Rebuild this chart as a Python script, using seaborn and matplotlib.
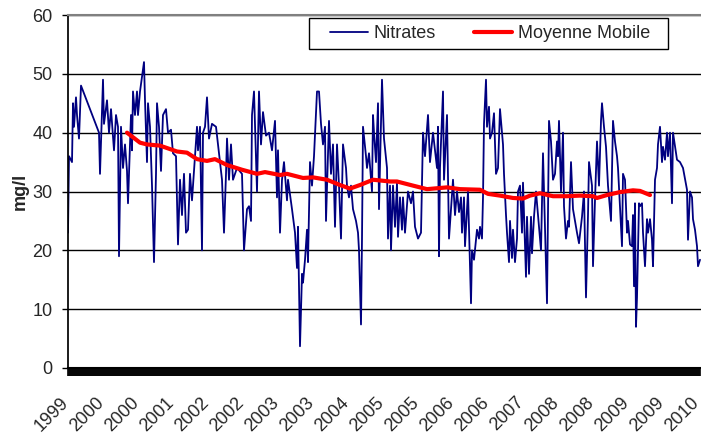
import numpy as np
import pandas as pd
import seaborn as sns
import matplotlib
matplotlib.use("Agg")
import matplotlib.pyplot as plt
import matplotlib.transforms as mtransforms
from matplotlib.patches import Rectangle

# sample position (category index) and nitrate value
sample = [0, 1, 4, 5, 6, 8, 9, 11, 13, 31, 32, 35, 36, 39, 41, 43, 46, 48, 50, 51,
          53, 55, 57, 59, 60, 63, 64, 65, 67, 69, 70, 72, 76, 77, 79, 80, 82, 84, 86, 88,
          89, 91, 93, 95, 98, 100, 103, 105, 108, 110, 112, 114, 116, 118, 120, 122, 124, 126, 129, 130,
          132, 134, 135, 137, 139, 141, 144, 148, 154, 156, 158, 159, 161, 163, 165, 169, 174, 176, 179, 181,
          183, 184, 186, 189, 191, 193, 195, 198, 201, 204, 207, 209, 210, 212, 214, 216, 219, 220, 224, 227,
          229, 230, 232, 234, 235, 237, 239, 240, 242, 244, 246, 249, 251, 253, 255, 257, 258, 261, 263, 265,
          267, 269, 271, 273, 275, 278, 279, 281, 283, 285, 288, 290, 291, 293, 294, 295, 298, 299, 301, 304,
          305, 306, 308, 310, 311, 314, 316, 319, 320, 322, 323, 325, 327, 329, 330, 332, 334, 335, 337, 340,
          343, 345, 347, 350, 353, 355, 357, 360, 362, 365, 369, 370, 371, 372, 375, 376, 379, 381, 385, 387,
          389, 391, 393, 394, 396, 397, 400, 403, 404, 406, 409, 411, 412, 414, 415, 416, 418, 419, 421, 422,
          424, 426, 428, 430, 432, 435, 436, 438, 439, 441, 442, 444, 445, 447, 449, 450, 452, 454, 455, 458,
          459, 461, 463, 464, 466, 468, 470, 473, 475, 479, 481, 483, 485, 487, 489, 490, 491, 493, 495, 496,
          498, 500, 501, 503, 505, 509, 511, 514, 516, 518, 520, 521, 524, 525, 527, 529, 531, 533, 534, 536,
          538, 540, 543, 545, 547, 549, 550, 552, 554, 555, 557, 559, 560, 562, 564, 565, 566, 567, 568, 569,
          571, 572, 574, 575, 577, 579, 580, 582, 584, 585, 587, 589, 590, 592, 594, 595, 597, 599, 600, 602,
          604, 605, 609, 612, 615, 619, 620, 622, 624, 625, 627, 629, 630, 632]
nitrates = [23, 36, 35, 45, 41, 46, 43, 39, 48, 40, 33, 49, 41.5, 45.5, 40, 44, 37, 43, 41, 19,
            41, 34, 38, 33.5, 28, 43, 37, 47, 43, 47, 43, 47, 52, 45.5, 35, 45, 41, 31, 18, 33,
            45, 41, 33.5, 43, 44, 40, 40.5, 36.5, 36, 21, 32, 26, 33, 23, 23.5, 33, 28.5, 33.5, 41, 37,
            41, 20, 40, 41, 46, 39, 41.5, 41, 32, 23, 33, 39, 32, 38, 32, 34, 33, 20, 27, 27.5,
            25, 43, 47, 30, 47, 38, 43.5, 39.5, 40, 37, 42, 29, 37, 23, 32, 35, 28.5, 32, 27, 23,
            17, 24, 3.7, 16, 14.5, 18.4, 23.5, 18, 35, 31, 36, 47, 47, 41.5, 38, 41, 25, 42, 33, 38,
            24, 38, 31, 22, 38, 34, 31, 29, 31, 27, 25, 23, 20, 7.4, 22, 41, 36, 34, 36.5, 30,
            43, 40, 35, 45, 27, 49, 39, 34, 22, 31, 20, 31, 24, 31.4, 22.3, 29, 23.5, 29, 23, 30,
            28, 30, 24, 22, 23, 40, 36, 43, 35, 40, 34, 41, 19, 34, 47, 32, 43, 22, 32, 26,
            30, 26.5, 29, 23, 29, 20.7, 30, 11, 20, 18.4, 23.5, 22, 24, 22, 29, 41.5, 49, 41, 44.4, 39,
            40, 43.3, 33, 34, 44, 38, 33, 26, 23, 18, 25, 18.7, 23.5, 18, 22, 30, 31, 23, 31.5, 15.5,
            25.7, 16, 25.7, 19.5, 25.7, 30, 26, 20, 36.5, 11, 42, 38.5, 32, 33, 38.5, 36, 42, 30, 40, 27.5,
            22, 25, 24, 35, 27, 23, 21.2, 25.7, 30, 12, 26, 35, 31, 17.3, 28.6, 38.5, 31, 42, 45, 41,
            37.6, 31, 25, 42, 38.5, 36, 34, 27.5, 20.7, 33, 32, 23, 25, 21, 20.7, 26, 13.9, 28, 7, 12,
            28, 27.5, 28, 23, 17.3, 25.3, 23, 25.3, 21.8, 17.3, 32, 34, 38, 41, 35, 37.6, 35.4, 40, 36, 40,
            28, 40, 35.4, 35, 34, 30.3, 21.8, 30, 29, 25.3, 23.5, 20.7, 17.3, 18.4]

# moving average (Moyenne Mobile)
ma_sample = [59, 72, 79, 92, 109, 119, 129, 139, 147, 159, 174, 189, 197, 212, 219, 235, 245, 259,
             272, 282, 292, 305, 322, 329, 345, 359, 379, 392, 412, 420, 432, 445, 455, 462, 472,
             485, 499, 512, 525, 529, 539, 552, 565, 572, 582]
ma_values = [40, 38.3, 38, 37.8, 36.8, 36.6, 35.5, 35.2, 35.5, 34.5, 33.7, 33, 33.3, 32.8, 33, 32.3,
             32.4, 32, 31.1, 30.5, 31.1, 32, 31.7, 31.7, 31, 30.4, 30.7, 30.4, 30.3, 29.6, 29.3, 28.9,
             28.8, 29.3, 29.7, 29.2, 29.2, 29.3, 29.2, 28.9, 29.4, 29.9, 30.2, 30.1, 29.4]

year_labels = ["1999", "2000", "2000", "2001", "2002", "2002", "2003", "2003", "2004", "2005",
               "2005", "2006", "2006", "2007", "2008", "2008", "2009", "2009", "2010"]
label_step = 35

df = pd.DataFrame({"sample": sample, "value": nitrates})
df_ma = pd.DataFrame({"sample": ma_sample, "value": ma_values})

sns.set_theme(style="white")
plt.rcParams["font.family"] = ["Liberation Sans", "DejaVu Sans"]

fig, ax = plt.subplots(figsize=(7.01, 4.33), dpi=100)
fig.subplots_adjust(left=68 / 701, right=1.0, bottom=65 / 433, top=418 / 433)

sns.lineplot(data=df, x="sample", y="value", ax=ax, color="#000080", lw=1.3,
             label="Nitrates")
sns.lineplot(data=df_ma, x="sample", y="value", ax=ax, color="#ff0000", lw=3,
             label="Moyenne Mobile")

ax.set_xlim(0, 633)
ax.set_ylim(0, 60)
ax.set_yticks(range(0, 61, 10))
ax.yaxis.grid(True, color="black", lw=1)
ax.set_axisbelow(True)

ticks = [i * label_step for i in range(len(year_labels))]
ax.set_xticks(ticks)
ax.set_xticklabels(year_labels, rotation=45, ha="right", rotation_mode="anchor")
ax.set_xticks(np.arange(0, 633, 1), minor=True)
ax.tick_params(axis="x", which="both", direction="out", length=6, width=1.2,
               color="black", bottom=True, labelsize=13, pad=4)
ax.tick_params(axis="y", direction="out", length=4, width=1, color="black",
               left=True, labelsize=13, pad=7)

# nudge the year labels down and left like the original
offset = mtransforms.ScaledTranslation(-8 / 100, -12 / 100, fig.dpi_scale_trans)
for lab in ax.get_xticklabels():
    lab.set_transform(lab.get_transform() + offset)

ax.spines["right"].set_visible(False)
ax.spines["top"].set_color("#808080")
ax.spines["top"].set_linewidth(1.5)
ax.spines["left"].set_color("black")
ax.spines["bottom"].set_color("black")
ax.spines["bottom"].set_linewidth(1.5)

ax.set_xlabel("")
ax.set_ylabel("mg/l", fontsize=13, fontweight="bold")
ax.yaxis.set_label_coords(-0.062, 0.5)

# legend box drawn separately so the padding matches
ax.add_patch(Rectangle((0.3807, 0.9037), 0.567, 0.0878, transform=ax.transAxes,
                       facecolor="white", edgecolor="black", lw=1, zorder=5,
                       clip_on=False))
leg = ax.legend(loc="center left", bbox_to_anchor=(0.414, 0.9476), ncol=2,
                frameon=False, fontsize=13, handlelength=2.1, handletextpad=0.3,
                columnspacing=2.15, borderaxespad=0, borderpad=0)
leg.set_zorder(6)

fig.savefig("out.png", dpi=100)
